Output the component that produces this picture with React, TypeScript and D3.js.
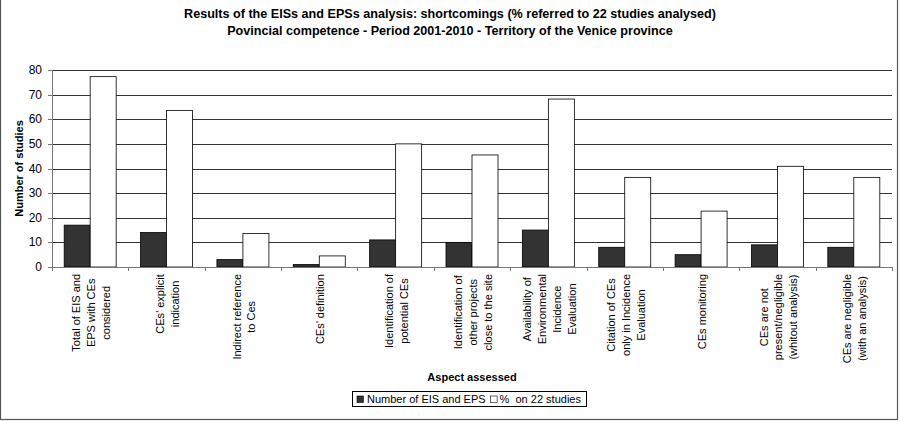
import React, { useMemo } from "react";
import * as d3 from "d3";

const titleLines = [
  "Results of the EISs and EPSs analysis: shortcomings (% referred to 22 studies analysed)",
  "Povincial competence - Period 2001-2010 - Territory of the Venice province",
];

const categoryLabels: string[][] = [
  ["Total of EIS and", "EPS with CEs", "considered"],
  ["CEs’ explicit", "indication"],
  ["Indirect reference", "to Ces"],
  ["CEs’ definition"],
  ["Identification of", "potential CEs"],
  ["Identification of", "other projects", "close to the site"],
  ["Availability of", "Environmental", "Incidence", "Evaluation"],
  ["Citation of CEs", "only in Incidence", "Evaluation"],
  ["CEs monitoring"],
  ["CEs are not", "present/negligible", "(whitout analysis)"],
  ["CEs are negligible", "(with an analysis)"],
];

const countValues = [17, 14, 3, 1, 11, 10, 15, 8, 5, 9, 8];
const percentValues = [77.3, 63.6, 13.6, 4.5, 50.0, 45.5, 68.2, 36.4, 22.7, 40.9, 36.4];

const yTicks = [0, 10, 20, 30, 40, 50, 60, 70, 80];
const seriesNames = ["Number of EIS and EPS", "%  on 22 studies"];
const seriesKeys = ["count", "percent"];
const yAxisTitle = "Number of studies";
const xAxisTitle = "Aspect assessed";

const FONT = "'Liberation Sans', Arial, sans-serif";

function measure(text: string, font: string): number {
  const ctx = document.createElement("canvas").getContext("2d");
  if (!ctx) return text.length * 6;
  ctx.font = font;
  return ctx.measureText(text).width;
}

export default function App() {
  const W = 900;
  const H = 421;
  const left = 52;
  const right = 892;
  const top = 70;
  const bottom = 267;

  const idx = categoryLabels.map((_, i) => String(i));
  const x = d3.scaleBand<string>().domain(idx).range([left, right]).padding(0);
  const step = x.bandwidth();
  const barW = 26;
  const po = (step / barW - 2) / 2;
  const xs = d3.scaleBand<string>().domain(seriesKeys).range([0, step]).paddingInner(0).paddingOuter(po);
  const y = d3.scaleLinear().domain([0, 80]).range([bottom, top]);

  const labelSize = 11;
  const labelMax = useMemo(
    () => categoryLabels.map((lines) => d3.max(lines, (l) => measure(l, `${labelSize}px ${FONT}`)) || 0),
    []
  );
  const legendW0 = useMemo(() => measure(seriesNames[0], `11px ${FONT}`), []);

  const lineH = 14.8;

  const legX = 352.5;
  const sq0 = legX + 4.5;
  const t0 = sq0 + 10;
  const sq1 = t0 + legendW0 + 5;
  const t1 = sq1 + 9;

  return (
    <svg
      width={W}
      height={H}
      style={{ position: "absolute", left: 0, top: 0, display: "block", background: "#fff" }}
      fontFamily={FONT}
    >
      <rect x={0} y={0} width={W} height={H} fill="#fff" />
      <rect x={0.5} y={-2} width={897} height={421.5} fill="none" stroke="#555" strokeWidth={1.2} />

      {titleLines.map((t, i) => (
        <text key={i} x={450} y={18 + i * 17} textAnchor="middle" fontWeight="bold" fontSize={12.6}>
          {t}
        </text>
      ))}

      {/* gridlines */}
      {yTicks.map((t) =>
        t === 0 ? null : (
          <line key={t} x1={left} x2={right} y1={Math.round(y(t)) + 0.5} y2={Math.round(y(t)) + 0.5} stroke="#333" strokeWidth={1} />
        )
      )}

      {/* bars */}
      {categoryLabels.map((_, i) => {
        const x0 = x(String(i)) as number;
        return (
          <g key={i}>
            <rect
              x={x0 + (xs("count") as number)}
              y={y(countValues[i])}
              width={xs.bandwidth()}
              height={bottom - y(countValues[i])}
              fill="#333333"
              stroke="#000"
              strokeWidth={0.8}
            />
            <rect
              x={x0 + (xs("percent") as number)}
              y={y(percentValues[i])}
              width={xs.bandwidth()}
              height={bottom - y(percentValues[i])}
              fill="#fff"
              stroke="#000"
              strokeWidth={0.8}
            />
          </g>
        );
      })}

      {/* y axis */}
      <line x1={left + 0.5} x2={left + 0.5} y1={top} y2={bottom} stroke="#777" />
      {yTicks.map((t) => (
        <g key={t}>
          <line x1={left - 4} x2={left} y1={Math.round(y(t)) + 0.5} y2={Math.round(y(t)) + 0.5} stroke="#777" />
          <text x={left - 10} y={y(t) + 4} textAnchor="end" fontSize={12}>
            {t}
          </text>
        </g>
      ))}
      <text
        transform={`translate(23,${(top + bottom) / 2}) rotate(-90)`}
        textAnchor="middle"
        fontWeight="bold"
        fontSize={11}
      >
        {yAxisTitle}
      </text>

      {/* x axis */}
      <line x1={left} x2={right} y1={bottom + 0.5} y2={bottom + 0.5} stroke="#777" />
      {d3.range(categoryLabels.length + 1).map((i) => {
        const xx = Math.round(left + i * step) + 0.5;
        return <line key={i} x1={xx} x2={xx} y1={bottom} y2={bottom + 4} stroke="#777" />;
      })}

      {categoryLabels.map((lines, i) => {
        const cx = (x(String(i)) as number) + step / 2 + 1;
        const cy = 274 + labelMax[i] / 2;
        const n = lines.length;
        return (
          <text key={i} transform={`translate(${cx},${cy}) rotate(-90)`} textAnchor="middle" fontSize={labelSize}>
            {lines.map((l, j) => (
              <tspan key={j} x={0} y={(j - (n - 1) / 2) * lineH + 4}>
                {l}
              </tspan>
            ))}
          </text>
        );
      })}

      <text x={(left + right) / 2} y={381} textAnchor="middle" fontWeight="bold" fontSize={11}>
        {xAxisTitle}
      </text>

      {/* legend */}
      <rect x={legX} y={391.5} width={234} height={15} fill="#fff" stroke="#000" strokeWidth={1} />
      <rect x={sq0} y={396} width={6.5} height={6.5} fill="#333" stroke="#000" strokeWidth={0.6} />
      <text x={t0} y={403} fontSize={11}>
        {seriesNames[0]}
      </text>
      <rect x={sq1} y={396} width={6.5} height={6.5} fill="#fff" stroke="#000" strokeWidth={0.6} />
      <text x={t1} y={403} fontSize={11} style={{ whiteSpace: "pre" }}>
        {seriesNames[1]}
      </text>
    </svg>
  );
}
